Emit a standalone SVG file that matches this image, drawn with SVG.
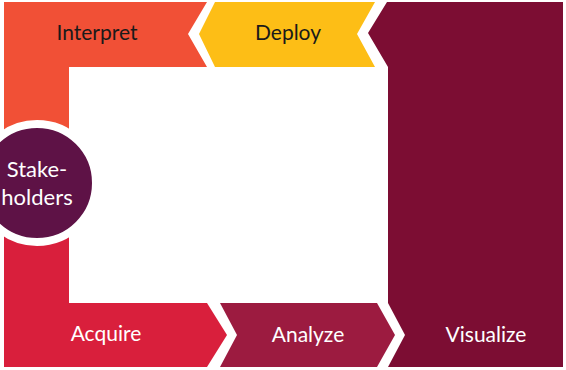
<svg xmlns="http://www.w3.org/2000/svg" width="566" height="370" viewBox="0 0 566 370">
<style>
.lbl{font-family:Lato,"Open Sans","Liberation Sans",sans-serif;font-size:21px;text-anchor:middle}
.dark{fill:#1a1a1a}
.light{fill:#ffffff}
.big{font-size:22px}
</style>
<rect width="566" height="370" fill="#ffffff"/>
<g id="visualize">
<polygon points="387,2 563,2 563,367 388,367 405,335 388,303 388,67 368,33" fill="#7C0D33"/>
<text class="lbl light" x="486" y="342">Visualize</text>
</g>
<g id="interpret">
<polygon points="4,2 207,2 188,34 207,67 69,67 69,190 4,190" fill="#F15036"/>
<text class="lbl dark" x="97" y="40">Interpret</text>
</g>
<g id="deploy">
<polygon points="215,2 375,2 357,34 375,67 215,67 199,34" fill="#FDBE16"/>
<text class="lbl dark" x="288" y="40">Deploy</text>
</g>
<g id="acquire">
<polygon points="4,180 69,180 69,303 207,303 227,335 207,367 4,367" fill="#D91F3C"/>
<text class="lbl light" x="106" y="341">Acquire</text>
</g>
<g id="analyze">
<polygon points="220,303 377,303 395,335 377,367 220,367 237,335" fill="#9C1B40"/>
<text class="lbl light" x="308" y="342">Analyze</text>
</g>
<g id="connectors"></g>
<g id="stakeholders">
<circle cx="37" cy="183" r="59" fill="#5E1246" stroke="#ffffff" stroke-width="8"/>
<text class="lbl light big" x="37" y="177">Stake-</text>
<text class="lbl light big" x="37" y="205">holders</text>
</g>
</svg>
